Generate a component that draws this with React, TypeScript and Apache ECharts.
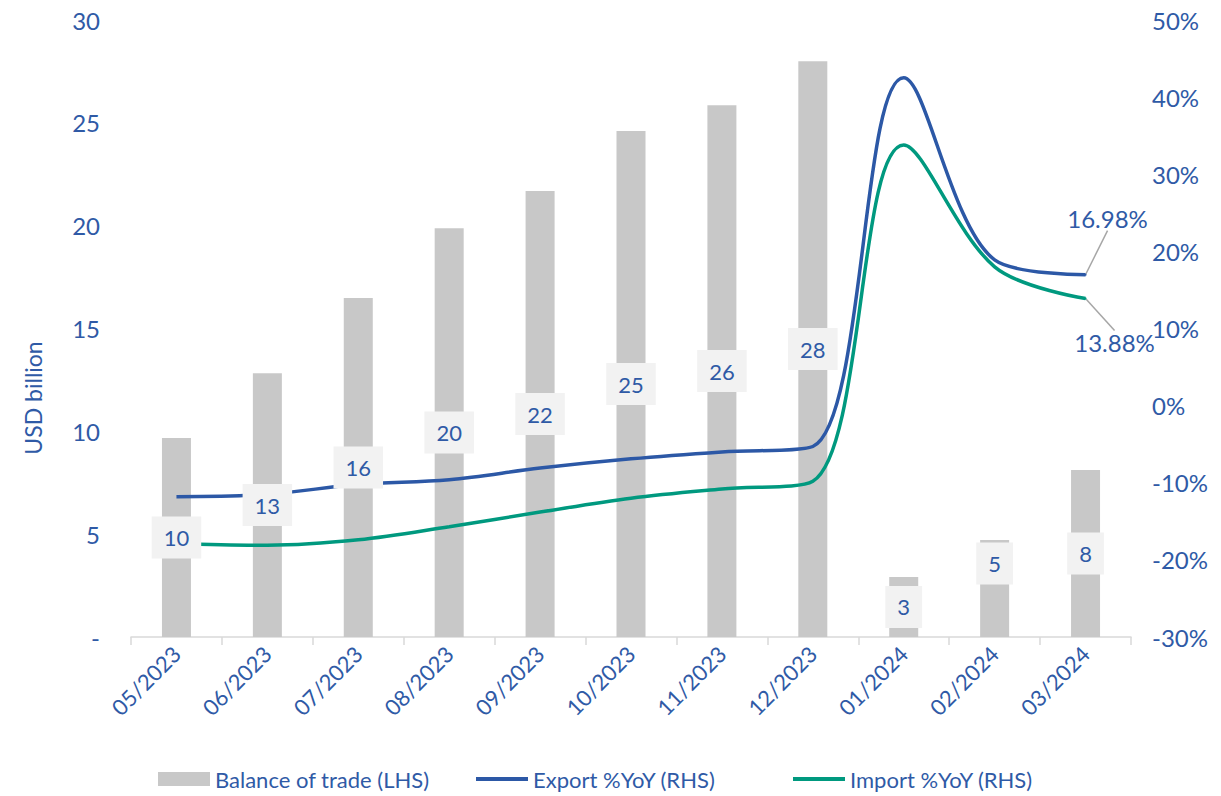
import React, { useEffect, useRef } from "react";
import * as echarts from "echarts";

const categories = ["05/2023", "06/2023", "07/2023", "08/2023", "09/2023", "10/2023", "11/2023", "12/2023", "01/2024", "02/2024", "03/2024"];
const balance = [9.67, 12.83, 16.48, 19.88, 21.68, 24.6, 25.86, 28.0, 2.92, 4.72, 8.12];
const exportYoY = [-11.8, -11.5, -10.2, -9.6, -8.1, -6.9, -6.0, -5.3, 42.5, 18.9, 16.98];
const importYoY = [-17.9, -18.1, -17.4, -15.7, -13.8, -12.0, -10.8, -9.8, 33.8, 18.0, 13.88];
const seriesNames = ["Balance of trade (LHS)", "Export %YoY (RHS)", "Import %YoY (RHS)"];

const BLUE_TEXT = "#2F5AA6";
const BAR = "#C8C8C8";
const EXP = "#2C58A6";
const IMP = "#00997F";
const FONT = "Lato, 'Open Sans', sans-serif";

export default function App() {
  const ref = useRef<HTMLDivElement>(null);
  useEffect(() => {
    document.body.style.margin = "0";
    const chart = echarts.init(ref.current!, null, { renderer: "svg" });
    const last = categories.length - 1;
    const endLabel = (vals: number[]) =>
      vals.map((v, i) =>
        i === last
          ? { value: v, symbol: "circle", symbolSize: 2, label: { show: true } }
          : { value: v }
      );
    const lineIcon = "path://M0,0H50V4H0Z";
    const legendLefts = [158, 476, 793];
    const legendIcons = ["rect", lineIcon, lineIcon];
    chart.setOption({
      animation: false,
      textStyle: { fontFamily: FONT },
      grid: { left: 131, right: 90, top: 20, bottom: 159, containLabel: false },
      legend: seriesNames.map((n, i) => ({
        left: legendLefts[i],
        top: 768,
        itemWidth: 52,
        itemHeight: 14,
        padding: 0,
        textStyle: { color: BLUE_TEXT, fontSize: 22, fontFamily: FONT },
        data: [{ name: n, icon: legendIcons[i] }],
      })),
      xAxis: {
        type: "category",
        data: categories,
        axisLine: { lineStyle: { color: "#D9D9D9", width: 1.5 } },
        axisTick: { show: true, length: 8, lineStyle: { color: "#D9D9D9", width: 1.5 } },
        axisLabel: { rotate: 45, interval: 0, color: BLUE_TEXT, fontSize: 22, margin: 13, fontFamily: FONT },
        splitLine: { show: false },
      },
      yAxis: [
        {
          type: "value",
          min: 0,
          max: 30,
          interval: 5,
          axisLine: { show: false },
          axisTick: { show: false },
          splitLine: { show: false },
          axisLabel: {
            color: BLUE_TEXT,
            fontSize: 24,
            margin: 31,
            fontFamily: FONT,
            formatter: (v: number) => (v === 0 ? "-" : String(v)),
          },
        },
        {
          type: "value",
          min: -30,
          max: 50,
          interval: 10,
          position: "right",
          axisLine: { show: false },
          axisTick: { show: false },
          splitLine: { show: false },
          axisLabel: { color: BLUE_TEXT, fontSize: 24, margin: 21, fontFamily: FONT, formatter: "{value}%" },
        },
      ],
      graphic: [
        {
          type: "text",
          x: 33,
          y: 398,
          rotation: Math.PI / 2,
          style: {
            text: "USD billion",
            fill: BLUE_TEXT,
            font: `23px ${FONT}`,
            textAlign: "center",
            textVerticalAlign: "middle",
          },
        },
      ],
      series: [
        {
          name: seriesNames[0],
          type: "bar",
          data: balance,
          barWidth: 29,
          itemStyle: { color: BAR },
          yAxisIndex: 0,
          z: 1,
        },
        {
          name: seriesNames[1],
          type: "line",
          yAxisIndex: 1,
          data: endLabel(exportYoY),
          smooth: 0.35,
          symbol: "none",
          lineStyle: { color: EXP, width: 3.5 },
          itemStyle: { color: EXP },
          z: 2,
          label: {
            show: false,
            position: "inside",
            color: BLUE_TEXT,
            fontSize: 24,
            fontFamily: FONT,
            formatter: (p: any) => p.value.toFixed(2) + "%",
          },
          labelLine: { show: true, lineStyle: { color: "#A6A6A6", width: 1.5 } },
          labelLayout: (p: any) => (p.dataIndex === last ? { dx: 22, dy: -56 } : {}),
        },
        {
          name: seriesNames[2],
          type: "line",
          yAxisIndex: 1,
          data: endLabel(importYoY),
          smooth: 0.35,
          symbol: "none",
          lineStyle: { color: IMP, width: 3.5 },
          itemStyle: { color: IMP },
          z: 2,
          label: {
            show: false,
            position: "inside",
            color: BLUE_TEXT,
            fontSize: 24,
            fontFamily: FONT,
            formatter: (p: any) => p.value.toFixed(2) + "%",
          },
          labelLine: { show: true, lineStyle: { color: "#A6A6A6", width: 1.5 } },
          labelLayout: (p: any) => (p.dataIndex === last ? { dx: 29, dy: 44 } : {}),
        },
        {
          name: "labels",
          type: "bar",
          data: balance.map((v, i) => (i === 9 ? { value: v, label: { offset: [0, -25] } } : v)),
          barWidth: 29,
          barGap: "-100%",
          yAxisIndex: 0,
          itemStyle: { color: "rgba(0,0,0,0)" },
          z: 5,
          silent: true,
          label: {
            show: true,
            position: "inside",
            color: BLUE_TEXT,
            fontSize: 22,
            fontFamily: FONT,
            backgroundColor: "#F2F2F2",
            padding: [10, 12],
            formatter: (p: any) => String(Math.round(p.value)),
          },
        },
      ],
    });
    return () => chart.dispose();
  }, []);
  return <div ref={ref} style={{ width: 1221, height: 796 }} />;
}
